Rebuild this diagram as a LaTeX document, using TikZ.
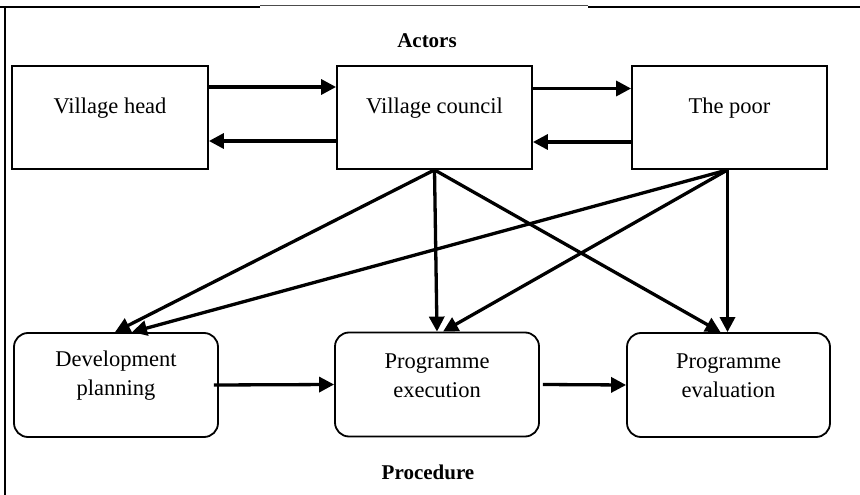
\documentclass[tikz,border=0pt]{standalone}
\usepackage{fontspec}
\setmainfont{Liberation Serif}
\usetikzlibrary{arrows.meta}
\tikzset{
  actor/.style={draw, line width=1.8pt, minimum width=195pt, minimum height=103pt, inner sep=0pt},
  proc/.style={draw, line width=1.8pt, rounded corners=14pt, minimum width=204pt, minimum height=104pt, inner sep=0pt},
  txt/.style={font=\fontsize{22.5}{29}\selectfont, align=center, inner sep=0pt},
  ttl/.style={font=\fontsize{21}{25}\selectfont\bfseries, inner sep=0pt},
  conn/.style={line width=3.3pt, -{Triangle[length=15pt,width=15pt]}},
  frame/.style={line width=2pt}
}
\begin{document}
\begin{tikzpicture}[x=1pt,y=-1pt]
\useasboundingbox (0,0) rectangle (860,495);
% frame
\draw[frame] (0,7) -- (260,7);
\draw[line width=1pt, black!70] (260,6) -- (588,6);
\draw[frame] (588,7) -- (860,7);
\draw[frame] (5,7) -- (5,495);
% titles
\node[ttl] (actors) at (427,41) {Actors};
\node[ttl] (procedure) at (428,472) {Procedure};
% actor boxes
\node[actor, minimum width=196pt] (head) at (110,117.5) {};
\node[actor] (council) at (434.5,117.5) {};
\node[actor] (poor) at (729.5,117.5) {};
\node[txt] (headT) at (110,108) {Village head};
\node[txt] (councilT) at (434.5,108) {Village council};
\node[txt] (poorT) at (729.5,108) {The poor};
% procedure boxes
\node[proc] (dev) at (116,385) {};
\node[proc] (exec) at (437,384.5) {};
\node[proc, minimum width=203pt] (eval) at (728.5,385) {};
\node[txt] (devT) at (116,376) {Development\\planning};
\node[txt] (execT) at (437,376) {Programme\\execution};
\node[txt] (evalT) at (728.5,376) {Programme\\evaluation};
% horizontal actor arrows
\draw[conn] ([yshift=30.5pt]head.east) -- ([yshift=30.5pt]council.west);
\draw[conn] ([yshift=-23.5pt]council.west) -- ([yshift=-23.5pt]head.east);
\draw[conn] ([yshift=29pt]council.east) -- ([yshift=29pt]poor.west);
\draw[conn] ([yshift=-24.5pt]poor.west) -- ([yshift=-24.5pt]council.east);
% actors to procedures
\draw[conn] (council.south) -- ([xshift=-1pt]dev.north);
\draw[conn] (council.south) -- (exec.north);
\draw[conn] (council.south) -- ([xshift=-8pt]eval.north);
\draw[conn] ([xshift=-2pt]poor.south) -- ([xshift=16pt]dev.north);
\draw[conn] ([xshift=-2pt]poor.south) -- ([xshift=6pt]exec.north);
\draw[conn] ([xshift=-2pt]poor.south) -- ([xshift=-1pt]eval.north);
% procedure flow
\draw[conn] ([xshift=-5pt]dev.east) -- (exec.west);
\draw[conn] ([xshift=3pt]exec.east) -- (eval.west);
\end{tikzpicture}
\end{document}
